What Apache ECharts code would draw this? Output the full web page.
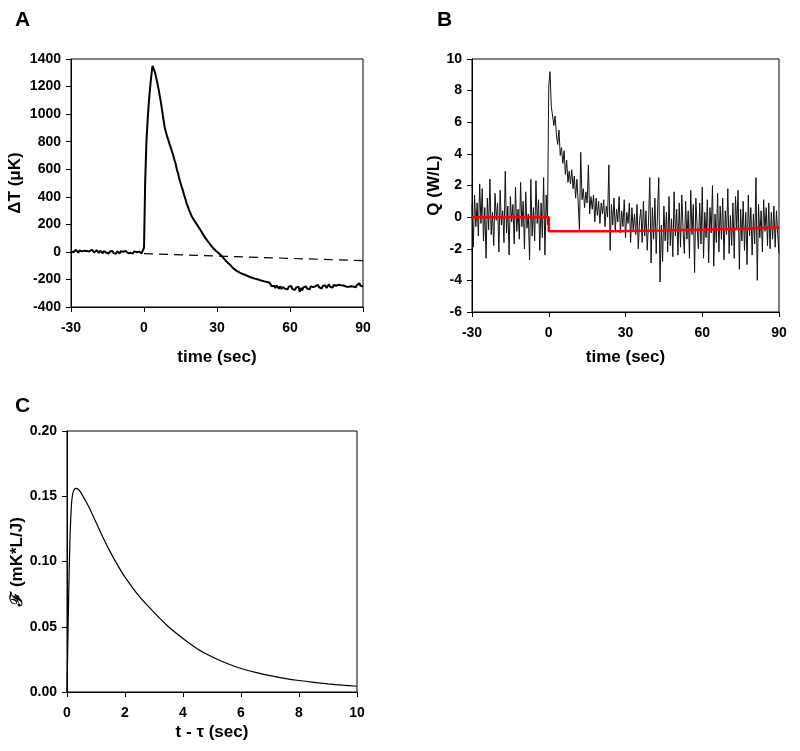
<!DOCTYPE html>
<html>
<head>
<meta charset="utf-8">
<script src="https://cdn.jsdelivr.net/npm/echarts@6/dist/echarts.min.js"></script>
<style>
html,body{margin:0;padding:0;background:#fff;}
#chart{width:800px;height:751px;}
</style>
</head>
<body>
<div id="chart"></div>
<script>
// ---------- Panel A: temperature change, sampled every 0.5 s from -30 s ----------
const aStart = -30;
const aStep = 0.5;
const aDeltaT = [
  5, 12, -3, 8, 15, 2, -6, 10, 18, 4,
  -2, 9, 14, 6, -8, 3, 11, 16, 7, -4,
  2, 13, 5, -7, 9, 4, -10, 6, 1, -5,
  8, -12, 3, -6, 7, -9, 2, -14, 4, -3,
  -11, 5, -8, 1, -13, 6, -5, -10, 3, -7,
  0, -12, 4, -9, -2, -14, 2, -6, -11, -3,
  30, 520, 800, 960, 1090, 1190, 1280, 1350, 1345, 1305,
  1265, 1225, 1180, 1130, 1080, 1020, 960, 905, 870, 838,
  812, 782, 758, 728, 702, 668, 640, 598, 570, 530,
  500, 472, 445, 412, 385, 352, 330, 305, 285, 262,
  250, 232, 222, 205, 196, 178, 168, 150, 140, 120,
  108, 95, 82, 70, 58, 48, 38, 26, 18, 8,
  2, -6, -12, -22, -30, -42, -50, -62, -68, -80,
  -86, -96, -104, -116, -120, -130, -134, -142, -146, -152,
  -150, -160, -158, -166, -164, -174, -170, -182, -176, -188,
  -182, -194, -188, -198, -192, -204, -198, -210, -202, -214,
  -206, -218, -210, -222, -214, -250, -258, -246, -262, -244,
  -258, -266, -250, -270, -255, -246, -268, -258, -272, -252,
  -264, -248, -270, -256, -276, -260, -268, -252, -290, -262,
  -280, -258, -270, -250, -266, -258, -272, -250, -264, -256,
  -268, -248, -262, -240, -258, -250, -266, -246, -256, -244,
  -262, -250, -236, -254, -244, -258, -240, -252, -246, -260,
  -238, -250, -242, -256, -244, -236, -252, -240, -254, -242,
  -250, -238, -252, -244, -256, -240, -250, -228, -246, -240,
  -250
];
const aBaseTime = [0, 90];
const aBaseValue = [-13, -64];

// ---------- Panel B: heat production, sampled every 0.5 s from -30 s ----------
const bStart = -30;
const bStep = 0.5;
const bQ = [
  0.8, -1.9, 1.4, -0.6, 0.9, -1.2, 2.1, -0.4, 1.8, -1.5,
  0.6, -2.6, 1.2, -0.8, 2.4, -1.1, 0.3, -1.8, 1.5, -0.2,
  0.9, -2.2, 1.7, -0.5, 0.4, -1.6, 2.9, -1.0, 0.7, -2.4,
  1.3, -0.3, 0.8, -1.7, 1.9, -0.9, 0.5, -1.4, 2.2, -0.6,
  1.0, -2.0, 1.6, -0.7, 0.2, -2.7, 2.4, -1.2, 0.6, -1.5,
  2.3, -0.4, 1.1, -2.1, 0.9, -1.3, 2.5, -2.4, 1.4, -0.5,
  8.3, 9.2, 7.0, 6.9, 5.8, 6.4, 5.2, 4.6, 5.5, 3.9,
  4.4, 3.4, 4.2, 2.7, 3.6, 2.2, 2.9, 2.1, 3.0, 1.8,
  2.6, 1.2, 2.4, 1.0, -0.8, 4.1, 1.1, 1.8, 0.6, 1.6,
  0.9, 3.3, 0.2, 1.3, 0.5, 1.4, -0.3, 1.2, 0.1, 1.0,
  -0.4, 0.9, 0.2, 1.1, -0.6, 0.7, 0.0, 3.3, -2.1, 0.8,
  -0.5, 1.2, -0.9, 0.5, -0.3, 1.3, -1.0, 0.4, -0.6, 1.1,
  -1.3, 0.3, -0.4, 0.9, -1.6, 0.6, -0.8, 0.2, -1.1, 0.8,
  -2.0, -0.2, 0.5, -1.6, 1.0, -1.2, 0.4, -2.1, -0.3, 2.5,
  -2.9, 0.6, -1.4, 1.2, -2.3, 0.2, 2.5, -4.1, -0.5, -2.8,
  0.7, -1.5, 0.3, -2.2, 1.3, -1.8, -0.1, -2.5, 1.6, -1.2,
  0.5, -2.4, 0.9, -1.9, 1.4, -0.8, -2.3, 1.0, -1.4, 0.4,
  -2.6, 1.7, -1.1, 0.8, -3.5, 1.2, -0.6, -2.0, 0.9, -1.7,
  1.9, -2.6, 0.3, -1.3, 1.1, -2.9, 0.6, -1.0, 2.0, -3.1,
  0.2, -1.6, 1.5, -2.2, 0.7, -1.4, 1.2, -2.7, 0.4, -1.1,
  1.8, -2.3, 0.1, -1.8, 0.9, -2.6, 1.3, -0.7, 1.7, -3.3,
  0.5, -1.5, 1.0, -2.1, 0.3, -3.0, 1.4, -1.2, 0.6, -2.4,
  0.2, -1.7, 2.5, -4.0, 0.8, -1.3, 0.4, -2.2, 1.1, -0.9,
  0.6, -1.8, 0.9, -2.0, 0.3, -1.4, 0.7, -1.9, 0.4, -1.1,
  -2.3
];
const bFitTime = [-30, 0, 0, 25, 45, 60, 75, 90];
const bFitValue = [0, 0, -0.9, -0.9, -0.85, -0.8, -0.75, -0.65];

// ---------- Panel C: transfer function ----------
const cTime = [0, 0.05, 0.1, 0.15, 0.2, 0.3, 0.4, 0.5, 0.75, 1.0, 1.25, 1.5, 1.75, 2.0, 2.5, 3.0, 3.5, 4.0, 4.5, 5.0, 5.5, 6.0, 6.5, 7.0, 7.5, 8.0, 8.5, 9.0, 9.5, 10];
const cValue = [0, 0.065, 0.115, 0.142, 0.152, 0.156, 0.155, 0.152, 0.142, 0.130, 0.118, 0.107, 0.097, 0.088, 0.073, 0.061, 0.050, 0.041, 0.033, 0.027, 0.022, 0.018, 0.015, 0.0125, 0.0105, 0.0088, 0.0074, 0.0062, 0.0052, 0.0044];

// ---------- tick settings ----------
const aXTicks = {min: -30, max: 90, interval: 30};
const aYTicks = {min: -400, max: 1400, interval: 200};
const bYTicks = {min: -6, max: 10, interval: 2};
const cXTicks = {min: 0, max: 10, interval: 2};
const cYTicks = {min: 0, max: 0.2, interval: 0.05};

function pairs(start, step, vals) {
  return vals.map((v, i) => [start + i * step, v]);
}
function zip(xs, ys) { return xs.map((x, i) => [x, ys[i]]); }

const FONT = '"Liberation Sans", Arial, sans-serif';
const labelStyle = {color: '#000', fontFamily: FONT, fontWeight: 'bold', fontSize: 14};
const nameStyle = {color: '#000', fontFamily: FONT, fontWeight: 'bold', fontSize: 17};
const plain = v => String(v);

function xAxis(gi, ticks, name, gap) {
  return {
    type: 'value', gridIndex: gi, min: ticks.min, max: ticks.max, interval: ticks.interval,
    name: name, nameLocation: 'middle', nameGap: gap, nameTextStyle: nameStyle,
    axisLine: {show: true, onZero: false, lineStyle: {color: '#000', width: 1}},
    axisTick: {show: true, inside: false, length: 5, lineStyle: {color: '#000'}},
    axisLabel: Object.assign({margin: 14, formatter: plain}, labelStyle),
    splitLine: {show: false}
  };
}
function yAxis(gi, ticks, name, gap, fmt) {
  const lbl = Object.assign({margin: 10, formatter: fmt || plain}, labelStyle);
  return {
    type: 'value', gridIndex: gi, min: ticks.min, max: ticks.max, interval: ticks.interval,
    name: name, nameLocation: 'middle', nameGap: gap, nameRotate: 90, nameTextStyle: nameStyle,
    axisLine: {show: true, onZero: false, lineStyle: {color: '#000', width: 1}},
    axisTick: {show: true, inside: false, length: 5, lineStyle: {color: '#000'}},
    axisLabel: lbl,
    splitLine: {show: false}
  };
}

const gridStyle = {show: true, borderColor: '#000', borderWidth: 1, backgroundColor: 'transparent'};
const letterStyle = {fontFamily: FONT, fontWeight: 'bold', fontSize: 21, color: '#000'};

const chart = echarts.init(document.getElementById('chart'), null, {renderer: 'canvas'});
chart.setOption({
  animation: false,
  backgroundColor: '#fff',
  title: [
    {text: 'A', left: 10, top: 5, textStyle: letterStyle},
    {text: 'B', left: 432, top: 5, textStyle: letterStyle},
    {text: 'C', left: 10, top: 391, textStyle: letterStyle}
  ],
  grid: [
    Object.assign({left: 71, top: 59, width: 292, height: 248}, gridStyle),
    Object.assign({left: 472, top: 59, width: 307, height: 253}, gridStyle),
    Object.assign({left: 67, top: 431, width: 290, height: 261}, gridStyle)
  ],
  xAxis: [
    xAxis(0, aXTicks, 'time (sec)', 42),
    xAxis(1, aXTicks, 'time (sec)', 37),
    xAxis(2, cXTicks, 't - τ (sec)', 32)
  ],
  yAxis: [
    yAxis(0, aYTicks, 'ΔT (μK)', 47),
    yAxis(1, bYTicks, 'Q (W/L)', 28),
    yAxis(2, cYTicks, 'ℱ (mK*L/J)', 41, v => v.toFixed(2))
  ],
  series: [
    {type: 'line', xAxisIndex: 0, yAxisIndex: 0, data: pairs(aStart, aStep, aDeltaT),
     showSymbol: false, lineStyle: {color: '#000', width: 2}},
    {type: 'line', xAxisIndex: 0, yAxisIndex: 0, data: zip(aBaseTime, aBaseValue),
     showSymbol: false, lineStyle: {color: '#000', width: 1.2, type: [9, 6]}},
    {type: 'line', xAxisIndex: 1, yAxisIndex: 1, data: pairs(bStart, bStep, bQ),
     showSymbol: false, lineStyle: {color: '#111', width: 1}},
    {type: 'line', xAxisIndex: 1, yAxisIndex: 1, data: zip(bFitTime, bFitValue),
     showSymbol: false, lineStyle: {color: '#ff0000', width: 2.5}},
    {type: 'line', xAxisIndex: 2, yAxisIndex: 2, data: zip(cTime, cValue),
     showSymbol: false, smooth: 0.3, lineStyle: {color: '#000', width: 1.2}}
  ]
});
</script>
</body>
</html>
